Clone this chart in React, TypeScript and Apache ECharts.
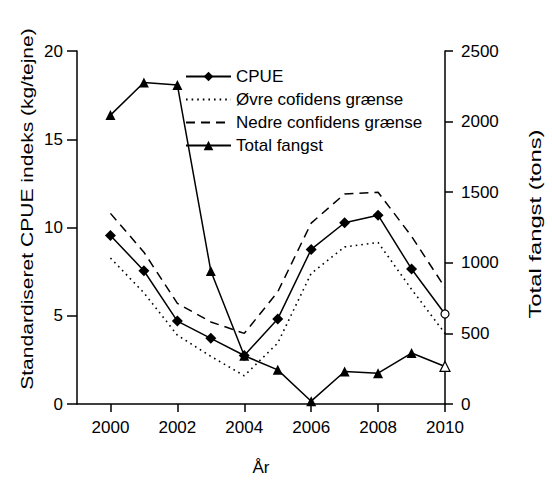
import React, { useEffect, useRef } from "react";
import * as echarts from "echarts";

const years = [2000, 2001, 2002, 2003, 2004, 2005, 2006, 2007, 2008, 2009, 2010];
const cpue = [9.55, 7.55, 4.7, 3.72, 2.75, 4.82, 8.76, 10.27, 10.7, 7.65, 5.1];
const ovreGraense = [8.27, 6.3, 3.9, 2.7, 1.6, 3.45, 7.4, 8.9, 9.15, 6.5, 4.0];
const nedreGraense = [10.8, 8.6, 5.7, 4.65, 4.0, 6.35, 10.25, 11.9, 12.0, 9.5, 6.6];
const totalFangst = [2046, 2277, 2260, 942, 342, 242, 20, 230, 218, 361, 266];
const xTicks = [2000, 2002, 2004, 2006, 2008, 2010];

const FONT = "'Liberation Sans', Arial, sans-serif";

function pairs(vals: number[], hollowLast: boolean, sym: string, size: number) {
  return vals.map((v, i) => {
    if (hollowLast && i === vals.length - 1) {
      return {
        value: [years[i], v],
        symbol: sym,
        symbolSize: size,
        itemStyle: { color: "#fff", borderColor: "#000", borderWidth: 1.2 },
      };
    }
    return [years[i], v];
  });
}

export default function App() {
  const ref = useRef<HTMLDivElement>(null);
  useEffect(() => {
    document.body.style.margin = "0";
    const chart = echarts.init(ref.current!, null, { renderer: "svg" });
    const axisLine = { show: true, lineStyle: { color: "#000", width: 1.5 } };
    const axisTick = { show: true, length: 9, lineStyle: { color: "#000", width: 1.5 } };
    const noSym = { itemStyle: { opacity: 0 } };
    chart.setOption({
      animation: false,
      backgroundColor: "#fff",
      textStyle: { fontFamily: FONT },
      grid: { left: 77, right: 107, top: 51, bottom: 83 },
      legend: {
        orient: "vertical",
        left: 180,
        top: 63,
        itemWidth: 45,
        itemHeight: 12,
        itemGap: 6,
        textStyle: { fontFamily: FONT, fontSize: 17, color: "#000" },
        data: [
          { name: "CPUE" },
          { name: "Øvre cofidens grænse", ...noSym },
          { name: "Nedre confidens grænse", ...noSym },
          { name: "Total fangst" },
        ],
      },
      xAxis: {
        type: "value",
        min: 1999,
        max: 2010,
        interval: 1,
        name: "År",
        nameLocation: "middle",
        nameGap: 55,
        nameTextStyle: { fontFamily: FONT, fontSize: 17, color: "#000" },
        axisLine,
        axisTick: { ...axisTick, length: 8, customValues: xTicks },
        axisLabel: {
          customValues: xTicks,
          formatter: (v: number) => String(v),
          fontFamily: FONT,
          fontSize: 17,
          color: "#000",
          margin: 15,
        },
        splitLine: { show: false },
      },
      yAxis: [
        {
          type: "value",
          min: 0,
          max: 20,
          interval: 5,
          position: "left",
          axisLine,
          axisTick: { ...axisTick, length: 10 },
          axisLabel: {
            formatter: (v: number) => String(v),
            fontFamily: FONT,
            fontSize: 17,
            color: "#000",
            margin: 14,
          },
          splitLine: { show: false },
        },
        {
          type: "value",
          min: 0,
          max: 2500,
          interval: 500,
          position: "right",
          axisLine,
          axisTick: { ...axisTick, length: 8 },
          axisLabel: {
            formatter: (v: number) => String(v),
            fontFamily: FONT,
            fontSize: 17,
            color: "#000",
            margin: 16,
          },
          splitLine: { show: false },
        },
      ],
      graphic: [
        {
          type: "text",
          x: 27,
          y: 209,
          rotation: Math.PI / 2,
          scaleX: 1.24,
          style: {
            text: "Standardiseret CPUE indeks (kg/tejne)",
            font: `17px ${FONT}`,
            fill: "#000",
            textAlign: "center",
            textVerticalAlign: "middle",
          },
        },
        {
          type: "text",
          x: 535,
          y: 224,
          rotation: Math.PI / 2,
          scaleX: 1.4,
          style: {
            text: "Total fangst (tons)",
            font: `17px ${FONT}`,
            fill: "#000",
            textAlign: "center",
            textVerticalAlign: "middle",
          },
        },
      ],
      series: [
        {
          name: "CPUE",
          type: "line",
          yAxisIndex: 0,
          data: pairs(cpue, true, "circle", 8),
          symbol: "diamond",
          symbolSize: 11,
          itemStyle: { color: "#000" },
          lineStyle: { color: "#000", width: 1.5 },
          z: 5,
        },
        {
          name: "Øvre cofidens grænse",
          type: "line",
          yAxisIndex: 0,
          data: pairs(ovreGraense, false, "none", 0),
          symbol: "none",
          itemStyle: { color: "#000" },
          lineStyle: { color: "#000", width: 1.6, type: [1.6, 4] },
        },
        {
          name: "Nedre confidens grænse",
          type: "line",
          yAxisIndex: 0,
          data: pairs(nedreGraense, false, "none", 0),
          symbol: "none",
          itemStyle: { color: "#000" },
          lineStyle: { color: "#000", width: 1.5, type: [9, 6] },
        },
        {
          name: "Total fangst",
          type: "line",
          yAxisIndex: 1,
          data: pairs(totalFangst, true, "triangle", 10),
          symbol: "triangle",
          symbolSize: 10,
          itemStyle: { color: "#000" },
          lineStyle: { color: "#000", width: 1.5 },
          z: 5,
        },
      ],
    });
    return () => chart.dispose();
  }, []);
  return (
    <div
      ref={ref}
      style={{ width: 552, height: 487, position: "absolute", left: 0, top: 0 }}
    />
  );
}
